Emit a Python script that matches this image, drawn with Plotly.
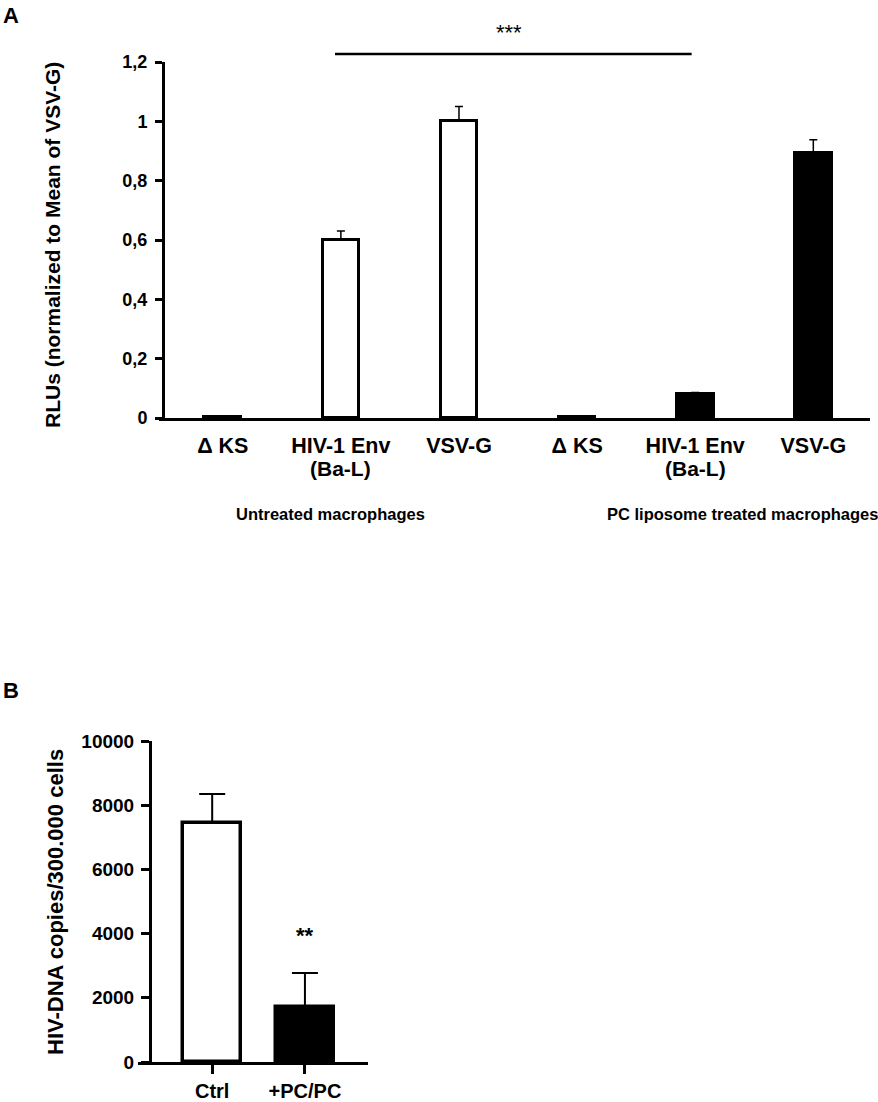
import plotly.graph_objects as go

# Panel A data
a_pos = [0, 1, 2, 3, 4, 5]
a_labels = ["Δ KS", "HIV-1 Env", "VSV-G", "Δ KS", "HIV-1 Env", "VSV-G"]
a_sublabel_pos = [1, 4]
a_sublabel = "(Ba-L)"
a_untreated = [0.005, 0.60, 1.00]
a_untreated_err = [0.003, 0.03, 0.05]
a_treated = [0.005, 0.082, 0.893]
a_treated_err = [0.003, 0.004, 0.045]
a_ticks = [0, 0.2, 0.4, 0.6, 0.8, 1.0, 1.2]
a_ticktext = ["0", "0,2", "0,4", "0,6", "0,8", "1", "1,2"]

# Panel B data
b_labels = ["Ctrl", "+PC/PC"]
b_values = [7450, 1720]
b_err = [900, 1050]
b_ticks = [0, 2000, 4000, 6000, 8000, 10000]
b_ticktext = ["0", "2000", "4000", "6000", "8000", "10000"]

W, H = 878, 1102
FONT = "Liberation Sans, Arial, sans-serif"


def bold(size, family=FONT):
    return dict(family=family, size=size, color="black", weight="bold")


fig = go.Figure()

# panel A bars
fig.add_trace(go.Bar(
    x=a_pos[:3], y=a_untreated, width=0.31,
    marker=dict(color="white", line=dict(color="black", width=3)),
    error_y=dict(type="data", symmetric=False, array=a_untreated_err,
                 arrayminus=[0, 0, 0], color="black", thickness=1.5, width=4),
    xaxis="x", yaxis="y", showlegend=False,
))
fig.add_trace(go.Bar(
    x=a_pos[3:], y=a_treated, width=0.31,
    marker=dict(color="black", line=dict(color="black", width=3)),
    error_y=dict(type="data", symmetric=False, array=a_treated_err,
                 arrayminus=[0, 0, 0], color="black", thickness=1.5, width=4),
    xaxis="x", yaxis="y", showlegend=False,
))

# panel B bars
fig.add_trace(go.Bar(
    x=[0], y=[b_values[0]], width=0.62,
    marker=dict(color="white", line=dict(color="black", width=3.5)),
    error_y=dict(type="data", symmetric=False, array=[b_err[0]],
                 arrayminus=[0], color="black", thickness=2, width=13),
    xaxis="x2", yaxis="y2", showlegend=False,
))
fig.add_trace(go.Bar(
    x=[1], y=[b_values[1]], width=0.62,
    marker=dict(color="black", line=dict(color="black", width=3.5)),
    error_y=dict(type="data", symmetric=False, array=[b_err[1]],
                 arrayminus=[0], color="black", thickness=2, width=13),
    xaxis="x2", yaxis="y2", showlegend=False,
))

fig.update_layout(
    width=W, height=H,
    margin=dict(l=0, r=0, t=0, b=0, autoexpand=False),
    plot_bgcolor="white", paper_bgcolor="white",
    bargap=0,
    font=dict(family=FONT, color="black"),
    xaxis=dict(
        domain=[159 / W, 870 / W], range=[-0.54, 5.48],
        tickvals=a_pos, ticktext=a_labels, tickfont=bold(21.5),
        showline=True, linecolor="black", linewidth=3,
        ticks="", showgrid=False, zeroline=False, anchor="y",
        ticklabelstandoff=6,
    ),
    yaxis=dict(
        domain=[1 - 418 / H, 1 - 62 / H], range=[0, 1.2],
        tickvals=a_ticks, ticktext=a_ticktext, tickfont=bold(18),
        showline=True, linecolor="black", linewidth=3,
        ticks="outside", ticklen=7, tickwidth=3, tickcolor="black",
        showgrid=False, zeroline=False, anchor="free", position=163 / W,
        ticklabelstandoff=4,
    ),
    xaxis2=dict(
        domain=[138 / W, 368 / W], range=[-0.8, 1.68],
        tickvals=[0, 1], ticktext=b_labels, tickfont=bold(20),
        showline=True, linecolor="black", linewidth=3,
        ticks="outside", ticklen=9, tickwidth=3, tickcolor="black",
        showgrid=False, zeroline=False, anchor="y2",
        ticklabelstandoff=0,
    ),
    yaxis2=dict(
        domain=[1 - 1062 / H, 1 - 741 / H], range=[0, 10000],
        tickvals=b_ticks, ticktext=b_ticktext, tickfont=bold(19),
        showline=True, linecolor="black", linewidth=3,
        ticks="outside", ticklen=8, tickwidth=3, tickcolor="black",
        showgrid=False, zeroline=False, anchor="free", position=150 / W,
        ticklabelstandoff=3,
    ),
)

annotations = [
    dict(text="A", x=1 / W, y=1 - 16 / H, xref="paper", yref="paper",
         xanchor="left", yanchor="middle", showarrow=False, font=bold(22)),
    dict(text="B", x=1 / W, y=1 - 690 / H, xref="paper", yref="paper",
         xanchor="left", yanchor="middle", showarrow=False, font=bold(22)),
    dict(text="RLUs (normalized to Mean of VSV-G)", textangle=-90,
         x=52 / W, y=1 - 245 / H, xref="paper", yref="paper",
         xanchor="center", yanchor="middle", showarrow=False, font=bold(21)),
    dict(text="HIV-DNA copies/300.000 cells", textangle=-90,
         x=55 / W, y=1 - 902 / H, xref="paper", yref="paper",
         xanchor="center", yanchor="middle", showarrow=False, font=bold(22)),
    dict(text="Untreated macrophages", x=330 / W, y=1 - 514 / H,
         xref="paper", yref="paper", xanchor="center", yanchor="middle",
         showarrow=False, font=bold(16.5)),
    dict(text="PC liposome treated macrophages", x=742 / W, y=1 - 514 / H,
         xref="paper", yref="paper", xanchor="center", yanchor="middle",
         showarrow=False, font=bold(16.5)),
    dict(text="***", x=2.42, y=1 - 32 / H, xref="x", yref="paper",
         xanchor="center", yanchor="middle", showarrow=False,
         font=dict(family=FONT, size=22, color="black")),
    dict(text="**", x=1, y=3950, xref="x2", yref="y2",
         xanchor="center", yanchor="middle", showarrow=False, font=bold(22)),
]
for p in a_sublabel_pos:
    annotations.append(dict(text=a_sublabel, x=p, y=1 - 468 / H,
                            xref="x", yref="paper", xanchor="center",
                            yanchor="middle", showarrow=False, font=bold(21)))
fig.update_layout(annotations=annotations)

# significance bar over panel A
fig.add_shape(type="line", x0=0.95, x1=3.97, y0=1 - 54 / H, y1=1 - 54 / H,
              xref="x", yref="paper", line=dict(color="black", width=2.5))

fig.write_html("out.html", config={"displayModeBar": False},
               post_script="document.body.style.margin='0';")
